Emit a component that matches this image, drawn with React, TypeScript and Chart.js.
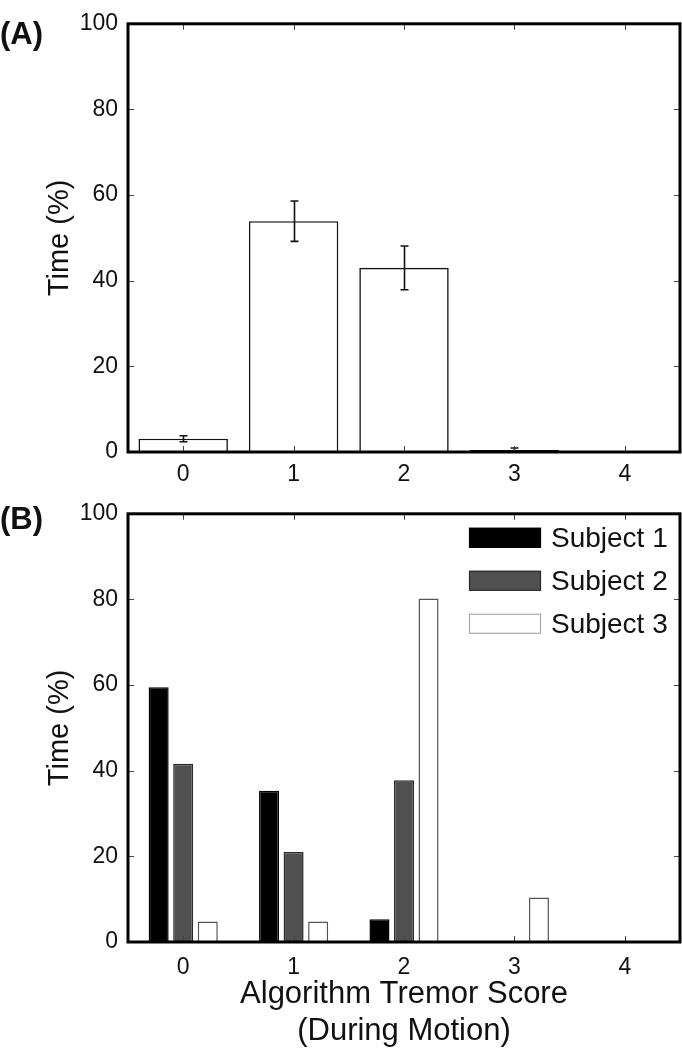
import React, { useEffect, useRef } from 'react';
import { Chart, registerables } from 'chart.js';

Chart.register(...registerables);

// ---- data ----
const scores = ['0', '1', '2', '3', '4'];
const yTickValues = [0, 20, 40, 60, 80, 100];
const meanTime = [3.1, 53.9, 43.0, 0.45, 0];
const errTime = [0.7, 4.7, 5.1, 0.5, 0];
const subjectLabels = ['Subject 1', 'Subject 2', 'Subject 3'];
const subject1 = [59.5, 35.3, 5.3, 0, 0];
const subject2 = [41.6, 21.0, 37.8, 0, 0];
const subject3 = [4.8, 4.8, 80.2, 10.4, 0];
const xTitleLines = ['Algorithm Tremor Score', '(During Motion)'];
const yTitle = 'Time (%)';

const FONT = '"Liberation Sans", Arial, Helvetica, sans-serif';
const W = 682;

function framePlugin(panel: string, panelY: number, errors: number[] | null, legend: boolean) {
  return {
    id: 'frame' + panel,
    afterDatasetsDraw(chart: any) {
      const { ctx, chartArea } = chart;
      const { left, right, top, bottom } = chartArea;
      const x = chart.scales.x;
      const y = chart.scales.y;
      ctx.save();
      // error bars
      if (errors) {
        const meta = chart.getDatasetMeta(0);
        const vals = chart.data.datasets[0].data as number[];
        ctx.strokeStyle = '#111';
        ctx.lineWidth = 1.6;
        meta.data.forEach((el: any, i: number) => {
          const e = errors[i];
          if (!e) return;
          const cx = Math.round(el.x) + 0.5;
          const yHi = y.getPixelForValue(vals[i] + e);
          const yLo = y.getPixelForValue(Math.max(0, vals[i] - e));
          ctx.beginPath();
          ctx.moveTo(cx, yHi);
          ctx.lineTo(cx, yLo);
          ctx.moveTo(cx - 4, yHi);
          ctx.lineTo(cx + 4, yHi);
          ctx.moveTo(cx - 4, yLo);
          ctx.lineTo(cx + 4, yLo);
          ctx.stroke();
        });
      }
      // inward ticks
      ctx.strokeStyle = '#444';
      ctx.lineWidth = 1;
      x.ticks.forEach((_t: any, i: number) => {
        const px = Math.round(x.getPixelForTick(i)) + 0.5;
        ctx.beginPath();
        ctx.moveTo(px, top);
        ctx.lineTo(px, top + 6);
        ctx.moveTo(px, bottom);
        ctx.lineTo(px, bottom - 6);
        ctx.stroke();
      });
      y.ticks.forEach((_t: any, i: number) => {
        const py = Math.round(y.getPixelForTick(i)) + 0.5;
        ctx.beginPath();
        ctx.moveTo(left, py);
        ctx.lineTo(left + 6, py);
        ctx.moveTo(right, py);
        ctx.lineTo(right - 6, py);
        ctx.stroke();
      });
      // box
      ctx.strokeStyle = '#000';
      ctx.lineWidth = 3;
      ctx.strokeRect(left, top, right - left, bottom - top);
      // legend
      if (legend) {
        const bx = right - 211;
        let by = top + 14;
        chart.data.datasets.forEach((ds: any, i: number) => {
          ctx.fillStyle = ds.backgroundColor;
          ctx.fillRect(bx, by, 72, 20);
          ctx.strokeStyle = i === 2 ? '#aaa' : ds.borderColor;
          ctx.lineWidth = 1.2;
          ctx.strokeRect(bx + 0.5, by + 0.5, 71, 19);
          ctx.fillStyle = '#111';
          ctx.font = '28px ' + FONT;
          ctx.textAlign = 'left';
          ctx.textBaseline = 'middle';
          ctx.fillText(ds.label, bx + 82, by + 11);
          by += 43;
        });
      }
      // panel label
      ctx.fillStyle = '#111';
      ctx.font = 'bold 31px ' + FONT;
      ctx.textAlign = 'left';
      ctx.textBaseline = 'middle';
      ctx.fillText(panel, 0, panelY);
      ctx.restore();
    },
  };
}

function yScale() {
  return {
    min: 0,
    max: 100,
    afterFit: (s: any) => {
      s.width = 128;
    },
    afterBuildTicks: (s: any) => {
      s.ticks = yTickValues.map((v) => ({ value: v }));
    },
    grid: { display: false, drawTicks: false },
    border: { display: false },
    ticks: { padding: 10, color: '#111', font: { family: FONT, size: 23 } },
    title: {
      display: true,
      text: yTitle,
      color: '#111',
      font: { family: FONT, size: 29 },
      padding: { top: 43, bottom: 0 },
    },
  };
}

export default function App() {
  const refA = useRef<HTMLCanvasElement>(null);
  const refB = useRef<HTMLCanvasElement>(null);

  useEffect(() => {
    const chartA = new Chart(refA.current!, {
      type: 'bar',
      data: {
        labels: scores,
        datasets: [
          {
            label: 'Mean',
            data: meanTime,
            backgroundColor: '#ffffff',
            borderColor: '#111',
            borderWidth: 1.6,
            barPercentage: 0.81,
            categoryPercentage: 1,
          },
        ],
      },
      options: {
        responsive: false,
        animation: false,
        devicePixelRatio: 1,
        layout: { padding: { top: 8, right: 2, left: 0, bottom: 0 } },
        plugins: { legend: { display: false }, tooltip: { enabled: false } },
        scales: {
          x: {
            afterFit: (s: any) => {
              s.height = 38;
            },
            grid: { display: false, drawTicks: false },
            border: { display: false },
            ticks: { padding: 9, color: '#111', font: { family: FONT, size: 23 } },
          },
          y: yScale() as any,
        },
      },
      plugins: [framePlugin('(A)', 35, errTime, false)],
    });

    const subjColors = [
      { bg: '#000000', bd: '#000000' },
      { bg: '#505050', bd: '#2a2a2a' },
      { bg: '#ffffff', bd: '#555555' },
    ];
    const subjData = [subject1, subject2, subject3];
    const chartB = new Chart(refB.current!, {
      type: 'bar',
      data: {
        labels: scores,
        datasets: subjData.map((d, i) => ({
          label: subjectLabels[i],
          data: d,
          backgroundColor: subjColors[i].bg,
          borderColor: subjColors[i].bd,
          borderWidth: 1.5,
          barPercentage: 0.816,
          categoryPercentage: 0.667,
        })),
      },
      options: {
        responsive: false,
        animation: false,
        devicePixelRatio: 1,
        layout: { padding: { top: 10, right: 2, left: 0, bottom: 0 } },
        plugins: { legend: { display: false }, tooltip: { enabled: false } },
        scales: {
          x: {
            afterFit: (s: any) => {
              s.height = 108;
            },
            grid: { display: false, drawTicks: false },
            border: { display: false },
            ticks: { padding: 12, color: '#111', font: { family: FONT, size: 23 } },
            title: {
              display: true,
              text: xTitleLines,
              color: '#111',
              font: { family: FONT, size: 31 },
              padding: { top: 0, bottom: 0 },
            },
          },
          y: yScale() as any,
        },
      },
      plugins: [framePlugin('(B)', 30, null, true)],
    });

    return () => {
      chartA.destroy();
      chartB.destroy();
    };
  }, []);

  return (
    <div style={{ position: 'absolute', left: 0, top: 0, width: W, height: 1050, background: '#fff' }}>
      <canvas
        ref={refA}
        width={W}
        height={490}
        style={{ position: 'absolute', left: 0, top: 0, width: W, height: 490 }}
      />
      <canvas
        ref={refB}
        width={W}
        height={560}
        style={{ position: 'absolute', left: 0, top: 490, width: W, height: 560 }}
      />
    </div>
  );
}
